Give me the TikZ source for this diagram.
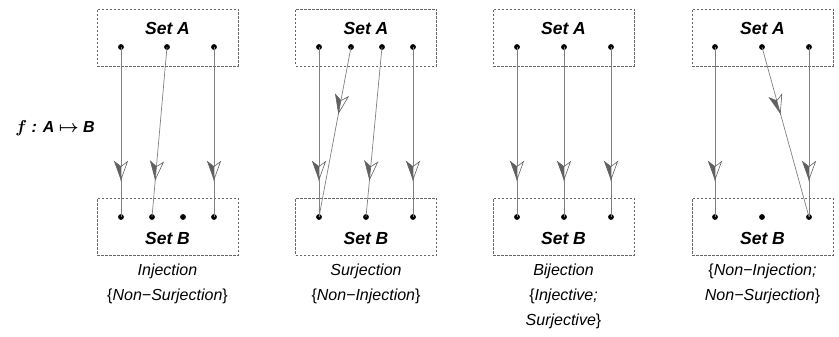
\documentclass[tikz,border=0pt]{standalone}
\usepackage{fontspec}
\setmainfont{Liberation Sans}
\usetikzlibrary{decorations.markings}
\newcommand\arrowhd{%
  \fill[black!62] (0pt,0pt) -- (-18pt,-6.5pt) -- (-13pt,0pt) -- cycle;
  \filldraw[fill=white,draw=black!62,line width=0.6pt] (0pt,0pt) -- (-13pt,0pt) -- (-18pt,6.5pt) -- cycle;
  \draw[black!62,line width=0.6pt] (0pt,0pt) -- (-18pt,-6.5pt) -- (-13pt,0pt);}
\begin{document}
\begin{tikzpicture}[x=1pt,y=-1pt,
 setbox/.style={draw=black!60, dash pattern=on 2.5pt off 1.5pt, line width=0.8pt, minimum width=141pt, minimum height=57pt, inner sep=0pt},
 pt/.style={circle, fill=black, inner sep=0pt, minimum size=5.8pt},
 settitle/.style={font=\bfseries\itshape\fontsize{17.5}{20}\selectfont, inner sep=0pt},
 caption/.style={font=\itshape\fontsize{16}{25}\selectfont, align=center, anchor=north, inner sep=0pt},
 maparrow/.style={draw=black!50, line width=0.7pt, postaction=decorate, decoration={markings, mark=at position #1 with {\arrowhd}}},
]
\useasboundingbox (0,0) rectangle (839,337);

% label
\node[font=\bfseries\itshape\fontsize{16}{18}\selectfont\boldmath, inner sep=0pt] (flabel) at (55,128) {$f$ : A $\mapsto$ B};

% ---------- Panel 1 ----------
\node[setbox] (A1) at (167.5,37.5) {};
\node[setbox] (B1) at (167.5,226.5) {};
\node[settitle] (tA1) at (167.5,28) {Set A};
\node[settitle] (tB1) at (167.5,238) {Set B};
\node[pt] (a11) at (121,47) {};
\node[pt] (a12) at (167,47) {};
\node[pt] (a13) at (214,47) {};
\node[pt] (b11) at (121,217) {};
\node[pt] (b12) at (152,217) {};
\node[pt] (b13) at (183,217) {};
\node[pt] (b14) at (214,217) {};
\draw[maparrow=0.78] (a11.center) -- (b11.center);
\draw[maparrow=0.78] (a12.center) -- (b12.center);
\draw[maparrow=0.78] (a13.center) -- (b14.center);
\node[caption] (c1) at (167.5,264) {Injection\\\textup{\{}Non−Surjection\textup{\}}};

% ---------- Panel 2 ----------
\node[setbox] (A2) at (366,37.5) {};
\node[setbox] (B2) at (366,226.5) {};
\node[settitle] (tA2) at (366,28) {Set A};
\node[settitle] (tB2) at (366,238) {Set B};
\node[pt] (a21) at (319,47) {};
\node[pt] (a22) at (351,47) {};
\node[pt] (a23) at (382,47) {};
\node[pt] (a24) at (413,47) {};
\node[pt] (b21) at (319,217) {};
\node[pt] (b22) at (366,217) {};
\node[pt] (b23) at (413,217) {};
\draw[maparrow=0.78] (a21.center) -- (b21.center);
\draw[maparrow=0.39] (a22.center) -- (b21.center);
\draw[maparrow=0.78] (a23.center) -- (b22.center);
\draw[maparrow=0.78] (a24.center) -- (b23.center);
\node[caption] (c2) at (366,264) {Surjection\\\textup{\{}Non−Injection\textup{\}}};

% ---------- Panel 3 ----------
\node[setbox] (A3) at (563.5,37.5) {};
\node[setbox] (B3) at (563.5,226.5) {};
\node[settitle] (tA3) at (563.5,28) {Set A};
\node[settitle] (tB3) at (563.5,238) {Set B};
\node[pt] (a31) at (517,47) {};
\node[pt] (a32) at (564,47) {};
\node[pt] (a33) at (611,47) {};
\node[pt] (b31) at (517,217) {};
\node[pt] (b32) at (564,217) {};
\node[pt] (b33) at (611,217) {};
\draw[maparrow=0.78] (a31.center) -- (b31.center);
\draw[maparrow=0.78] (a32.center) -- (b32.center);
\draw[maparrow=0.78] (a33.center) -- (b33.center);
\node[caption] (c3) at (563.5,264) {Bijection\\\textup{\{}Injective;\\Surjective\textup{\}}};

% ---------- Panel 4 ----------
\node[setbox] (A4) at (762.5,37.5) {};
\node[setbox] (B4) at (762.5,226.5) {};
\node[settitle] (tA4) at (762.5,28) {Set A};
\node[settitle] (tB4) at (762.5,238) {Set B};
\node[pt] (a41) at (715,47) {};
\node[pt] (a42) at (762,47) {};
\node[pt] (a43) at (809,47) {};
\node[pt] (b41) at (715,217) {};
\node[pt] (b42) at (762,217) {};
\node[pt] (b43) at (809,217) {};
\draw[maparrow=0.78] (a41.center) -- (b41.center);
\draw[maparrow=0.39] (a42.center) -- (b43.center);
\draw[maparrow=0.78] (a43.center) -- (b43.center);
\node[caption] (c4) at (762.5,264) {\textup{\{}Non−Injection;\\Non−Surjection\textup{\}}};
\end{tikzpicture}
\end{document}
